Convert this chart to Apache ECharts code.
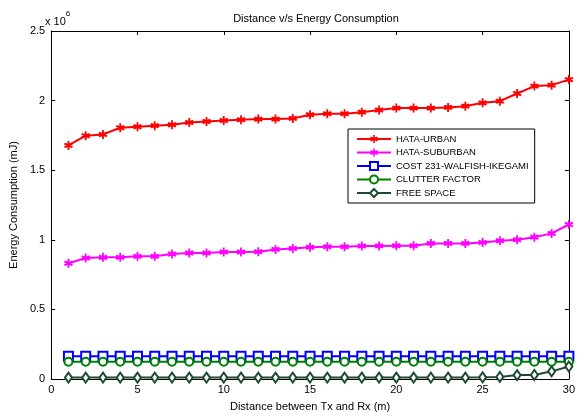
<!DOCTYPE html>
<html>
<head>
<meta charset="utf-8">
<script src="https://cdn.jsdelivr.net/npm/echarts@6/dist/echarts.min.js"></script>
<style>
  html, body { margin: 0; padding: 0; background: #fff; }
  #chart { width: 578px; height: 417px; }
</style>
</head>
<body>
<div id="chart"></div>
<script>
// distance between Tx and Rx (m)
const distance = [1, 2, 3, 4, 5, 6, 7, 8, 9, 10, 11, 12, 13, 14, 15,
  16, 17, 18, 19, 20, 21, 22, 23, 24, 25, 26, 27, 28, 29, 30]

// energy consumption in units of 1e6 mJ
const hataUrban = [1.678, 1.748, 1.757, 1.805, 1.812, 1.82, 1.827, 1.843, 1.85, 1.857,
  1.862, 1.867, 1.867, 1.872, 1.898, 1.905, 1.905, 1.917, 1.932, 1.946,
  1.946, 1.946, 1.951, 1.96, 1.984, 1.996, 2.051, 2.104, 2.111, 2.151]
const hataSuburban = [0.831, 0.869, 0.874, 0.874, 0.881, 0.881, 0.898, 0.905, 0.905, 0.912,
  0.912, 0.914, 0.931, 0.938, 0.946, 0.95, 0.95, 0.955, 0.956, 0.957,
  0.957, 0.974, 0.974, 0.974, 0.981, 0.993, 1.0, 1.019, 1.046, 1.11]
const cost231 = [0.163, 0.163, 0.163, 0.163, 0.163, 0.163, 0.163, 0.163, 0.163, 0.163,
  0.163, 0.163, 0.163, 0.163, 0.163, 0.163, 0.163, 0.163, 0.163, 0.163,
  0.163, 0.163, 0.163, 0.163, 0.163, 0.163, 0.163, 0.163, 0.163, 0.163]
const clutterFactor = [0.124, 0.124, 0.124, 0.124, 0.124, 0.124, 0.124, 0.124, 0.124, 0.124,
  0.124, 0.124, 0.124, 0.124, 0.124, 0.124, 0.124, 0.124, 0.124, 0.124,
  0.124, 0.124, 0.124, 0.124, 0.124, 0.124, 0.124, 0.124, 0.124, 0.124]
const freeSpace = [0.01, 0.01, 0.01, 0.01, 0.01, 0.01, 0.01, 0.01, 0.01, 0.01,
  0.01, 0.01, 0.01, 0.01, 0.01, 0.01, 0.01, 0.01, 0.01, 0.01,
  0.01, 0.01, 0.01, 0.01, 0.012, 0.015, 0.028, 0.029, 0.055, 0.09]

const seriesNames = ['HATA-URBAN', 'HATA-SUBURBAN', 'COST 231-WALFISH-IKEGAMI', 'CLUTTER FACTOR', 'FREE SPACE']

const font = '"Liberation Sans", Arial, sans-serif'
// chunky asterisk, like matlab's '*' marker drawn thick
const starPath = 'path://M4,0 L6,0 L6,3 L9,2 L10,4 L7,5 L10,6 L9,8 L6,7 L6,10 L4,10 L4,7 L1,8 L0,6 L3,5 L0,4 L1,2 L4,3 Z'

const pairs = (ys) => ys.map((y, i) => [distance[i], y])

const mkLine = (name, data, color, symbol, size) => ({
  name,
  type: 'line',
  data: pairs(data),
  xAxisIndex: 0,
  yAxisIndex: 0,
  symbol,
  symbolSize: size,
  lineStyle: { color, width: 2 },
  itemStyle: { color, borderWidth: 1.5 },
  emphasis: { disabled: true },
})

const chart = echarts.init(document.getElementById('chart'))

const axisCommon = {
  axisLine: { show: true, onZero: false, lineStyle: { color: '#000', width: 1 } },
  axisTick: { show: true, inside: true, length: 4, lineStyle: { color: '#000' } },
  splitLine: { show: false },
}

chart.setOption({
  animation: false,
  backgroundColor: '#fff',
  title: {
    text: 'Distance v/s Energy Consumption',
    left: 311,
    top: 8,
    textAlign: 'center',
    textStyle: { fontFamily: font, fontSize: 11, fontWeight: 'normal', color: '#000' },
  },
  grid: { left: 47, right: 3, top: 31, bottom: 37 },
  legend: {
    data: seriesNames,
    orient: 'vertical',
    left: 348,
    top: 129,
    padding: [5, 6, 5, 8],
    itemWidth: 34,
    itemHeight: 10,
    itemGap: 3.5,
    borderColor: '#000',
    borderWidth: 1,
    backgroundColor: '#fff',
    textStyle: { fontFamily: font, fontSize: 9.5, color: '#000', padding: [0, 0, 0, 0] },
    selectedMode: false,
  },
  graphic: [{
    type: 'text',
    left: 45,
    top: 10,
    style: {
      text: '{a|x 10}{b|6}',
      rich: {
        a: { fontFamily: font, fontSize: 11, color: '#000', padding: [6, 0, 0, 0] },
        b: { fontFamily: font, fontSize: 8, color: '#000', verticalAlign: 'top' },
      },
    },
  }],
  xAxis: [
    {
      ...axisCommon,
      type: 'value',
      min: 0,
      max: 30,
      interval: 5,
      name: 'Distance between Tx and Rx (m)',
      nameLocation: 'middle',
      nameGap: 22,
      nameTextStyle: { fontFamily: font, fontSize: 11, color: '#000' },
      axisLabel: { fontFamily: font, fontSize: 11, color: '#000', margin: 5 },
    },
    {
      ...axisCommon,
      type: 'value',
      position: 'top',
      min: 0,
      max: 30,
      interval: 5,
      axisLabel: { show: false },
    },
  ],
  yAxis: [
    {
      ...axisCommon,
      type: 'value',
      min: 0,
      max: 2.5,
      interval: 0.5,
      name: 'Energy Consumption (mJ)',
      nameLocation: 'middle',
      nameGap: 31,
      nameTextStyle: { fontFamily: font, fontSize: 11, color: '#000' },
      axisLabel: { fontFamily: font, fontSize: 11, color: '#000', margin: 6 },
    },
    {
      ...axisCommon,
      type: 'value',
      position: 'right',
      min: 0,
      max: 2.5,
      interval: 0.5,
      axisLabel: { show: false },
    },
  ],
  series: [
    mkLine(seriesNames[0], hataUrban, '#ff0000', starPath, 9),
    mkLine(seriesNames[1], hataSuburban, '#ff00ff', starPath, 9),
    mkLine(seriesNames[2], cost231, '#0000ff', 'emptyRect', 9),
    mkLine(seriesNames[3], clutterFactor, '#008000', 'emptyCircle', 8),
    {
      ...mkLine(seriesNames[4], freeSpace, '#1e4a32', 'emptyDiamond', 9),
      symbolSize: [7, 10],
    },
  ],
})
</script>
</body>
</html>
